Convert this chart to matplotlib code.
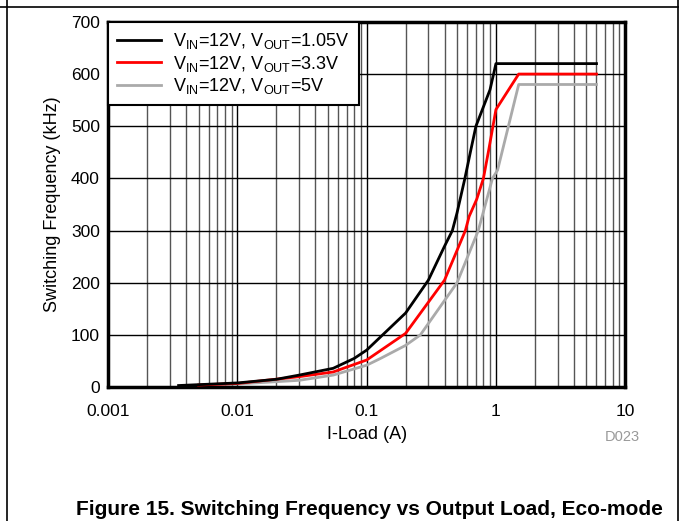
import numpy as np
import matplotlib
matplotlib.use("Agg")
import matplotlib.pyplot as plt
from matplotlib.lines import Line2D
from matplotlib.ticker import LogLocator, NullFormatter, FixedLocator

plt.rcParams['font.family'] = ['Liberation Sans', 'DejaVu Sans']

# ---------------------------
# Data
# ---------------------------
load_105 = [0.0035, 0.01, 0.02, 0.03, 0.055, 0.08, 0.1, 0.2, 0.3, 0.4, 0.46, 0.5, 0.575, 0.64, 0.7, 0.9, 1.0, 6.0]
freq_105 = [3, 8, 15, 23, 36, 55, 71, 142, 205, 270, 300, 334, 400, 455, 500, 570, 620, 620]

load_33 = [0.005, 0.01, 0.03, 0.055, 0.1, 0.2, 0.4, 0.58, 0.62, 0.71, 0.8, 0.88, 1.0, 1.5, 6.0]
freq_33 = [4, 7, 20, 29, 52, 103, 205, 300, 327, 360, 400, 455, 532, 600, 600]

load_5 = [0.005, 0.01, 0.03, 0.055, 0.1, 0.128, 0.2, 0.26, 0.5, 0.73, 0.94, 1.03, 1.5, 6.0]
freq_5 = [3, 6, 13, 23, 42, 55, 80, 100, 200, 300, 400, 416, 580, 580]

labels = [r'V$_{\mathregular{IN}}$=12V, V$_{\mathregular{OUT}}$=1.05V',
          r'V$_{\mathregular{IN}}$=12V, V$_{\mathregular{OUT}}$=3.3V',
          r'V$_{\mathregular{IN}}$=12V, V$_{\mathregular{OUT}}$=5V']
colors = ['black', '#ff0000', '#aaaaaa']

# ---------------------------
# Plotting
# ---------------------------
fig = plt.figure(figsize=(6.81, 5.21), dpi=100)
ax = fig.add_axes([0.159, 0.257, 0.759, 0.701])

ax.plot(load_105, freq_105, color=colors[0], lw=2, label=labels[0], zorder=4)
ax.plot(load_33, freq_33, color=colors[1], lw=2, label=labels[1], zorder=3)
ax.plot(load_5, freq_5, color=colors[2], lw=2, label=labels[2], zorder=2)

ax.set_xscale('log')
ax.set_xlim(0.001, 10)
ax.set_ylim(0, 700)
ax.set_yticks(range(0, 701, 100))
ax.xaxis.set_major_locator(FixedLocator([0.001, 0.01, 0.1, 1, 10]))
ax.set_xticklabels(['0.001', '0.01', '0.1', '1', '10'])
ax.xaxis.set_minor_locator(LogLocator(base=10, subs=np.arange(2, 10)))
ax.xaxis.set_minor_formatter(NullFormatter())
ax.tick_params(which='both', length=0, labelsize=12.5)
ax.tick_params(axis='x', pad=12)
ax.tick_params(axis='y', pad=6)

ax.grid(True, which='major', color='black', lw=1.0)
ax.grid(True, which='minor', axis='x', color='#555555', lw=1.0)
for s in ax.spines.values():
    s.set_linewidth(2.5)

ax.set_xlabel('I-Load (A)', fontsize=13, labelpad=5)
ax.set_ylabel('Switching Frequency (kHz)', fontsize=13, labelpad=7)

leg = ax.legend(loc='upper left', bbox_to_anchor=(0.0, 1.0), fontsize=13,
                frameon=True, fancybox=False, framealpha=1, edgecolor='black',
                handlelength=2.4, borderpad=0.5, labelspacing=0.15, borderaxespad=0.0,
                handletextpad=0.7)
leg.get_frame().set_linewidth(1.5)
leg.set_zorder(10)

fig.text(0.888, 0.153, 'D023', fontsize=10.5, color='#999999')
fig.text(0.112, 0.012, 'Figure 15. Switching Frequency vs Output Load, Eco-mode',
         fontsize=15, fontweight='bold')

# page frame lines
fig.add_artist(Line2D([0, 678 / 681], [1 - 7 / 521, 1 - 7 / 521], color='black', lw=1.2))
fig.add_artist(Line2D([7 / 681, 7 / 681], [0, 1], color='black', lw=1.2))
fig.add_artist(Line2D([678 / 681, 678 / 681], [0, 1], color='black', lw=1.2))

fig.savefig('out.png', dpi=100)
